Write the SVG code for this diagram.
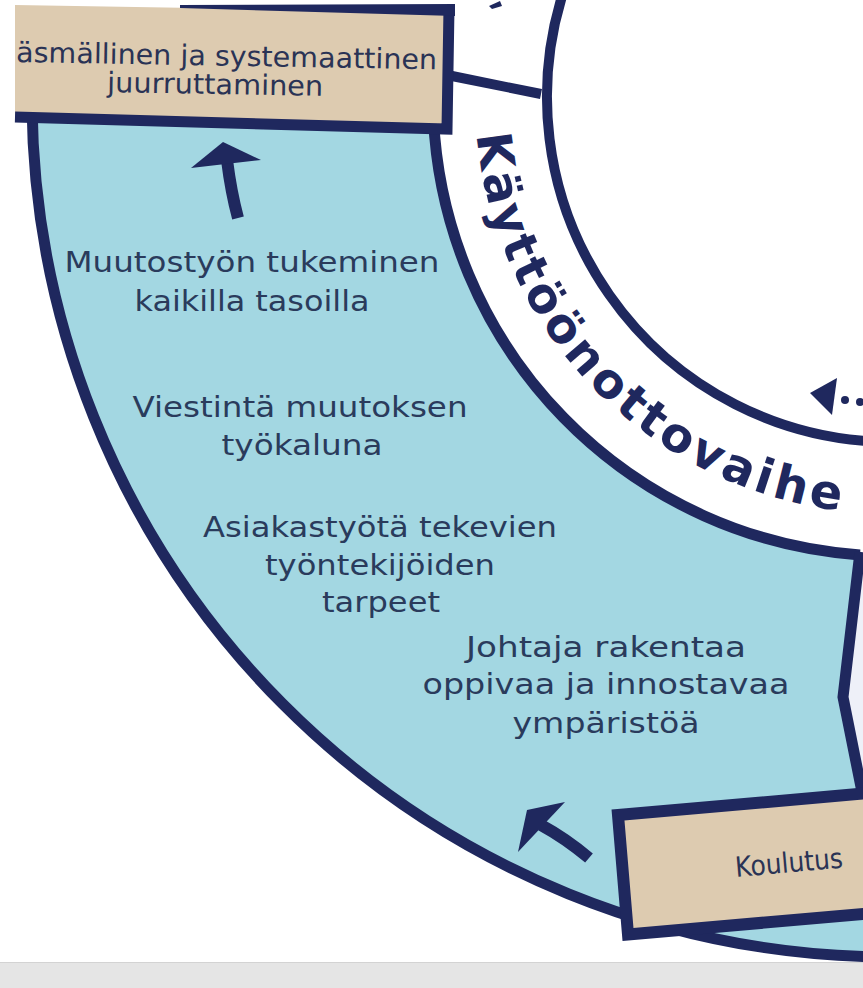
<svg xmlns="http://www.w3.org/2000/svg" width="863" height="988" viewBox="0 0 863 988">
<defs>
<style>
.navy{stroke:#1f285e;fill:none}
.fillnavy{fill:#1f285e}
.box{fill:#ddcbb0}
.lbl{font-family:"DejaVu Sans","Liberation Sans",sans-serif;font-size:28px;fill:#2a3b5c;text-anchor:middle}
.btxt{font-family:"DejaVu Sans","Liberation Sans",sans-serif;font-size:28px;fill:#2a3355}
.ring{font-family:"DejaVu Sans","Liberation Sans",sans-serif;font-weight:bold;font-size:48px;fill:#1f285e;letter-spacing:3.8px}
</style>
<path id="ringPath" d="M 475.4,78.8 A 417 417 0 0 0 964.4,507.7"/>
</defs>
<rect width="863" height="988" fill="#ffffff"/>
<g id="segment">
<path d="M 32,105 A 860 860 0 0 0 880,956.9 L 880,790 L 862,790 L 843,697 L 860,554.9 A 459 459 0 0 1 433.5,105 Z" fill="#a3d7e2"/>
<path d="M 860,554.9 L 843,697 L 862,790 L 880,790 L 880,554 Z" fill="#eef0f8"/>
<path class="navy" stroke-width="11" d="M 32,105 A 860 860 0 0 0 880,956.9"/>
<path class="navy" stroke-width="11" d="M 433.5,118 A 459 459 0 0 0 860,554.9"/>
<polyline class="navy" stroke-width="11" points="860,552 843,697 862,792"/>
<path class="navy" stroke-width="10" d="M 564,-10 A 345 345 0 0 0 880,441.8"/>
<line class="navy" stroke-width="10" x1="452" y1="76" x2="541" y2="94"/>
</g>
<g id="ring-label">
<text class="ring"><textPath href="#ringPath" startOffset="56">Käyttöönottovaihe</textPath></text>
</g>
<g id="node-top">
<polygon class="box" points="15,5 449,12 447,129 15,117"/>
<polyline class="navy" stroke-width="11" points="15,117 447,129 449,8"/>
<polygon class="fillnavy" points="180,5 455,4 455,16 180,8"/>
<text class="btxt" x="16" y="62" textLength="421" lengthAdjust="spacingAndGlyphs" transform="rotate(1 16 62)">äsmällinen ja systemaattinen</text>
<text class="btxt" x="215" y="94" text-anchor="middle" textLength="216" lengthAdjust="spacingAndGlyphs" transform="rotate(1 215 94)">juurruttaminen</text>
</g>
<g id="node-koulutus">
<polygon class="box" points="618,815 887,791.5 897,911 628,934.5" stroke="#1f285e" stroke-width="12"/>
<text class="btxt" x="736" y="877" font-size="26" textLength="108" lengthAdjust="spacingAndGlyphs" transform="rotate(-5 736 877)">Koulutus</text>
</g>
<g id="node-muutostyo">
<text class="lbl" x="252" y="272" textLength="375" lengthAdjust="spacingAndGlyphs">Muutostyön tukeminen</text>
<text class="lbl" x="252" y="311" textLength="235" lengthAdjust="spacingAndGlyphs">kaikilla tasoilla</text>
</g>
<g id="node-viestinta">
<text class="lbl" x="300" y="417" textLength="335" lengthAdjust="spacingAndGlyphs">Viestintä muutoksen</text>
<text class="lbl" x="302" y="455" textLength="161" lengthAdjust="spacingAndGlyphs">työkaluna</text>
</g>
<g id="node-asiakastyo">
<text class="lbl" x="380" y="537" textLength="354" lengthAdjust="spacingAndGlyphs">Asiakastyötä tekevien</text>
<text class="lbl" x="380" y="575" textLength="230" lengthAdjust="spacingAndGlyphs">työntekijöiden</text>
<text class="lbl" x="381" y="612" textLength="118" lengthAdjust="spacingAndGlyphs">tarpeet</text>
</g>
<g id="node-johtaja">
<text class="lbl" x="606" y="657" textLength="280" lengthAdjust="spacingAndGlyphs">Johtaja rakentaa</text>
<text class="lbl" x="606" y="694" textLength="367" lengthAdjust="spacingAndGlyphs">oppivaa ja innostavaa</text>
<text class="lbl" x="606" y="733" textLength="187" lengthAdjust="spacingAndGlyphs">ympäristöä</text>
</g>
<g id="connectors">
<path class="navy" stroke-width="12" d="M 238,218 Q 231,192 227,160"/>
<polygon class="fillnavy" points="223,142 261,160 191,168"/>
<path class="navy" stroke-width="12" d="M 589,858 Q 565,838 541,825"/>
<polygon class="fillnavy" points="527,810 565,802 518,852"/>
<polygon class="fillnavy" points="810,393 837,378 832,415"/>
<circle class="fillnavy" cx="845" cy="400" r="4"/>
<circle class="fillnavy" cx="860" cy="402" r="4"/>
<polygon class="fillnavy" points="489,6 500,1 502,6 492,9"/>
</g>
<rect x="0" y="962" width="863" height="26" fill="#e5e5e5"/>
<line x1="0" y1="962.5" x2="863" y2="962.5" stroke="#d3d3d3" stroke-width="1"/>
</svg>
